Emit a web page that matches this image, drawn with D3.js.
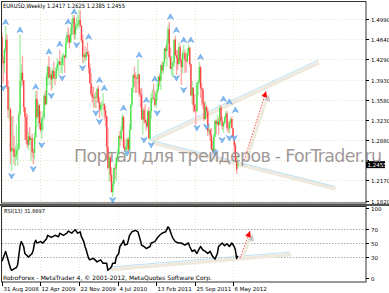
<!DOCTYPE html>
<html>
<head>
<meta charset="utf-8">
<script src="https://cdn.jsdelivr.net/npm/d3@7"></script>
<style>
body { margin: 0; background: #fff; }
svg { display: block; }
text { font-family: "DejaVu Sans", sans-serif; }
</style>
</head>
<body>
<svg width="389" height="293"></svg>
<script>
// weekly EURUSD bars, week 0 = 31 Aug 2008, open = previous close
var firstOpen = 1.4670;
var lastOpen = 1.2417;

var highs = [
  1.4735,1.4350,1.4470,1.4867,1.4720,1.3915,1.3810,1.3440,1.3297,1.3300,1.2955,1.2780,1.3150,1.2815,1.3380,1.4720,1.4190,1.4350,
  1.3925,1.3455,1.3350,1.3330,1.3020,1.3105,1.2905,1.2985,1.2720,1.3010,1.3735,1.3740,1.3540,1.3500,1.3380,1.3270,1.3375,1.3690,1.3740,1.4050,1.4180,1.4340,1.4150,1.4090,1.4140,1.4250,1.4070,1.4170,1.4310,1.4260,1.4445,1.4290,1.4370,1.4400,1.4365,1.4665,1.4770,1.4845,1.4735,1.4845,1.4995,1.5065,1.5060,1.4930,1.5015,1.5060,1.5145,1.5145,1.4885,1.4720,1.4385,1.4515,
  1.4460,1.4580,1.4435,1.4215,1.4040,1.3810,1.3805,1.3690,1.3720,1.3785,1.3825,1.3625,1.3540,1.3550,1.3695,1.3520,1.3475,1.3295,1.3095,1.2675,1.2600,1.2400,1.2155,1.2395,1.2460,1.2575,1.2720,1.2970,1.3030,1.3120,1.3335,1.3300,1.2900,1.2775,1.2925,1.2930,1.3160,1.3495,1.3790,1.4030,1.4160,1.4055,1.4000,1.4280,1.4030,1.3775,1.3785,1.3430,1.3450,1.3500,1.3235,1.3410,
  1.3445,1.3395,1.3695,1.3760,1.3860,1.3740,1.3700,1.3860,1.3990,1.4035,1.4195,1.4250,1.4245,1.4480,1.4520,1.4650,1.4880,1.4940,1.4495,1.4345,1.4250,1.4635,1.4695,1.4450,1.4450,1.4580,1.4540,1.4300,1.4440,1.4535,1.4450,1.4400,1.4480,1.4550,1.4500,1.4210,1.3910,1.3800,1.3680,1.3500,1.3890,1.3915,1.4245,1.4175,1.3870,1.3790,1.3560,1.3550,1.3490,1.3440,1.3120,1.3085,
  1.3080,1.2880,1.2985,1.3235,1.3235,1.3320,1.3265,1.3485,1.3485,1.3290,1.3200,1.3295,1.3385,1.3385,1.3210,1.3215,1.3265,1.3285,1.3090,1.2940,1.2825,1.2590,1.2625
];
var lows = [
  1.4140,1.3882,1.4040,1.4400,1.3770,1.3260,1.3235,1.2455,1.2330,1.2660,1.2445,1.2420,1.2530,1.2425,1.2705,1.3300,1.3820,1.3830,
  1.3360,1.2880,1.2810,1.2740,1.2700,1.2780,1.2510,1.2565,1.2455,1.2545,1.2905,1.3255,1.3110,1.3065,1.3005,1.2890,1.3040,1.3230,1.3475,1.3500,1.3815,1.3950,1.3840,1.3745,1.3775,1.3955,1.3830,1.3940,1.4080,1.4005,1.4185,1.4045,1.4045,1.4175,1.4050,1.4310,1.4560,1.4585,1.4480,1.4595,1.4695,1.4845,1.4630,1.4635,1.4805,1.4830,1.4830,1.4865,1.4580,1.4220,1.4215,1.4255,
  1.4260,1.4340,1.4030,1.3855,1.3640,1.3530,1.3445,1.3440,1.3435,1.3530,1.3530,1.3265,1.3380,1.3290,1.3480,1.3240,1.3115,1.2525,1.2355,1.2145,1.2145,1.1960,1.1875,1.2070,1.2200,1.2155,1.2470,1.2570,1.2760,1.2850,1.3040,1.2730,1.2680,1.2590,1.2660,1.2645,1.2700,1.3045,1.3460,1.3695,1.3805,1.3700,1.3700,1.3855,1.3630,1.3445,1.3225,1.2970,1.3160,1.3170,1.3045,1.3095,
  1.2900,1.2860,1.3250,1.3535,1.3580,1.3455,1.3435,1.3565,1.3730,1.3815,1.3750,1.4040,1.4030,1.4160,1.4295,1.4155,1.4550,1.4320,1.4115,1.4000,1.3970,1.4160,1.4350,1.4010,1.4100,1.4195,1.4220,1.3840,1.4035,1.4280,1.4050,1.4050,1.4240,1.4340,1.4160,1.3650,1.3495,1.3360,1.3360,1.3145,1.3370,1.3655,1.3855,1.3610,1.3485,1.3420,1.3210,1.3235,1.3260,1.2945,1.2985,1.2860,
  1.2710,1.2625,1.2660,1.2925,1.2975,1.3110,1.2975,1.3140,1.3200,1.3055,1.3005,1.3150,1.3215,1.3035,1.3000,1.2995,1.3105,1.3080,1.2910,1.2640,1.2495,1.2285,1.2385
];
var closes = [
  1.4270,1.4218,1.4456,1.4628,1.3805,1.3405,1.3412,1.2680,1.2735,1.2720,1.2585,1.2610,1.2695,1.2720,1.3325,1.3915,1.4050,1.3920,
  1.3450,1.3280,1.2875,1.2795,1.2940,1.2875,1.2910,1.2670,1.2655,1.2925,1.3595,1.3275,1.3485,1.3170,1.3050,1.3255,1.3285,1.3650,1.3500,1.3995,1.4155,1.3965,1.4020,1.3935,1.4085,1.3960,1.3945,1.4135,1.4205,1.4245,1.4190,1.4190,1.4325,1.4350,1.4315,1.4575,1.4710,1.4675,1.4575,1.4720,1.4910,1.5010,1.4720,1.4870,1.4880,1.4905,1.4975,1.4870,1.4620,1.4330,1.4370,1.4320,
  1.4410,1.4375,1.4140,1.3865,1.3680,1.3625,1.3610,1.3630,1.3625,1.3770,1.3530,1.3410,1.3490,1.3490,1.3500,1.3395,1.3295,1.2755,1.2390,1.2570,1.2270,1.1965,1.2110,1.2390,1.2380,1.2570,1.2640,1.2945,1.2900,1.3050,1.3280,1.2745,1.2700,1.2760,1.2890,1.2705,1.3050,1.3490,1.3790,1.4010,1.3965,1.3960,1.3945,1.4025,1.3690,1.3665,1.3240,1.3400,1.3225,1.3185,1.3115,1.3380,
  1.2905,1.3380,1.3610,1.3615,1.3595,1.3490,1.3690,1.3750,1.3985,1.3910,1.4185,1.4090,1.4230,1.4475,1.4430,1.4560,1.4810,1.4325,1.4120,1.4160,1.4225,1.4630,1.4355,1.4310,1.4200,1.4500,1.4260,1.4150,1.4385,1.4395,1.4280,1.4245,1.4395,1.4490,1.4200,1.3655,1.3790,1.3490,1.3390,1.3380,1.3870,1.3900,1.4150,1.3780,1.3755,1.3520,1.3240,1.3450,1.3380,1.3030,1.3050,1.2960,
  1.2720,1.2680,1.2930,1.3210,1.3155,1.3195,1.3140,1.3445,1.3210,1.3115,1.3175,1.3275,1.3340,1.3095,1.3075,1.3180,1.3240,1.3085,1.2915,1.2780,1.2515,1.2360,1.2455
];

// RSI(13): week index -> value
var rsiWeeks  = [0,3,5,7,8,11,12,13,15,16,18,19,22,25,26,27,28,29,32,34,37,38,41,44,47,48,51,54,55,58,59,61,62,63,65,66,68,69,70,72,73,76,79,82,84,87,88,90,91,92,94,95,97,98,100,101,102,104,105,106,108,111,113,115,116,118,120,123,124,127,129,131,133,136,138,139,141,142,144,147,149,152,155,156,158,160,162,164,165,167,169,171,173,175,177,179,180,183,185,187,189,191,193,194,195,196];
var rsiValues = [24,38,26,14,11,14,15,19,46,52,45,35,30,35,40,50,54,50,52,50,56,61,58,61,59,64,61,64,67,64,66,69,66,64,66,59,52,45,40,28,26,28,23,26,21,21,11,14,16,21,21,30,35,45,50,54,47,48,54,61,66,68,66,54,47,45,42,45,50,52,57,61,64,66,73,71,61,57,52,50,50,47,50,45,38,40,35,42,45,40,38,35,38,31,27,35,45,50,46,49,45,50,45,40,28,31.7];

// Bill Williams fractals: [week, price]
var fractalsUp = [[3,1.4937],[15,1.4798],[28,1.3807],[39,1.4419],[48,1.4553],[55,1.4943],[60,1.5117],[72,1.4681],[81,1.3924],[85,1.3785],[101,1.3435],[114,1.4361],[120,1.3575],[127,1.3942],[140,1.5030],[145,1.4798],[151,1.4623],[157,1.4623],[165,1.4326],[184,1.3593],[189,1.3545],[194,1.3400]];
var fractalsDown = [[1,1.3785],[8,1.2248],[26,1.2370],[33,1.2789],[41,1.3650],[50,1.3959],[62,1.4536],[67,1.4134],[78,1.3348],[81,1.3196],[92,1.1829],[104,1.2650],[118,1.2877],[124,1.2789],[129,1.3348],[145,1.3959],[151,1.3750],[162,1.3086],[170,1.3109],[177,1.2655],[183,1.2877],[189,1.2911],[193,1.2911]];

// drawn objects: [week, price] or [week, rsi]
var upperLine = [[123.9,1.2906],[262.7,1.4272]];
var lowerLine = [[123.9,1.2871],[276.8,1.2065]];
var priceArrow = [[201.2,1.2520],[219.5,1.3729]];
var rsiLine = [[89.8,15.7],[239.4,37.1]];
var rsiArrow = [[197.8,28.6],[206.2,67]];

var priceTicks = [1.4990,1.4640,1.4290,1.3930,1.3580,1.3230,1.2880,1.2530,1.2170,1.1820];
var hiddenTick = 1.2530; // covered by the current price box in the reference
var rsiTicks = [100,70,50,30,0];
var rsiLevels = [70,50,30];
var dateTicks = ["2008-08-31","2009-04-12","2009-11-22","2010-07-04","2011-02-13","2011-09-25","2012-05-06"];

var title = "EURUSD,Weekly  1.2417 1.2625 1.2385 1.2455";
var rsiTitle = "RSI(13) 31.6897";
var footer = "RoboForex - MetaTrader 4, \u00a9 2001-2012, MetaQuotes Software Corp.";
var watermark = "\u041f\u043e\u0440\u0442\u0430\u043b \u0434\u043b\u044f \u0442\u0440\u0435\u0439\u0434\u0435\u0440\u043e\u0432 - ForTrader.ru";

var svg = d3.select("svg");

var start = new Date(Date.UTC(2008, 7, 31));
function weekDate(w) { return new Date(start.getTime() + w * 7 * 86400000); }

var x = d3.scaleUtc()
    .domain([start, new Date(Date.UTC(2012, 4, 6))])
    .range([2, 233]);
var y = d3.scaleLinear().domain([1.1820, 1.4990]).range([200.5, 19]);
var yr = d3.scaleLinear().domain([0, 100]).range([278, 208]);

var bars = closes.map(function(c, i) {
    var o = i === 0 ? firstOpen : (i === closes.length - 1 ? lastOpen : closes[i - 1]);
    return { w: i, o: o, h: highs[i], l: lows[i], c: c };
});

var gridColor = "#e6e6c8";

// grids
var grid = svg.append("g");
dateTicks.forEach(function(d) {
    var xx = Math.round(x(new Date(d + "T00:00:00Z"))) + 0.5;
    grid.append("line").attr("x1", xx).attr("x2", xx).attr("y1", 2).attr("y2", 203)
        .attr("stroke", gridColor).attr("stroke-dasharray", "1,2");
    grid.append("line").attr("x1", xx).attr("x2", xx).attr("y1", 207).attr("y2", 282)
        .attr("stroke", gridColor).attr("stroke-dasharray", "1,2");
});
priceTicks.forEach(function(p) {
    var yy = Math.round(y(p)) + 0.5;
    grid.append("line").attr("x1", 2).attr("x2", 366).attr("y1", yy).attr("y2", yy)
        .attr("stroke", gridColor).attr("stroke-dasharray", "1,2");
});
rsiLevels.forEach(function(v) {
    var yy = Math.round(yr(v)) + 0.5;
    grid.append("line").attr("x1", 2).attr("x2", 366).attr("y1", yy).attr("y2", yy)
        .attr("stroke", "#a8a8a8").attr("stroke-dasharray", "1.5,1.5");
});

// trend lines with their beige shadow
function drawLine(g, pts, sx, sy) {
    var p = pts.map(function(d) { return [sx(weekDate(d[0])), sy(d[1])]; });
    g.append("line").attr("x1", p[0][0] + 1).attr("y1", p[0][1] + 2.5)
        .attr("x2", p[1][0] + 1).attr("y2", p[1][1] + 2.5)
        .attr("stroke", "#eee9dc").attr("stroke-width", 3.5);
    g.append("line").attr("x1", p[0][0]).attr("y1", p[0][1])
        .attr("x2", p[1][0]).attr("y2", p[1][1])
        .attr("stroke", "#b4dcf3").attr("stroke-width", 0.9);
}
var lines = svg.append("g");
drawLine(lines, upperLine, x, y);
drawLine(lines, lowerLine, x, y);
drawLine(lines, rsiLine, x, yr);

// candles
var cg = svg.append("g");
cg.selectAll("rect.wick").data(bars).enter().append("rect")
    .attr("x", function(d) { return x(weekDate(d.w)) - 0.6; })
    .attr("width", 1.3)
    .attr("y", function(d) { return y(d.h); })
    .attr("height", function(d) { return Math.max(0.5, y(d.l) - y(d.h)); })
    .attr("fill", function(d) { return d.c >= d.o ? "#a2f0a2" : "#ffa3a3"; });
cg.selectAll("rect.body").data(bars).enter().append("rect")
    .attr("x", function(d) { return x(weekDate(d.w)) - 0.6; })
    .attr("width", 1.3)
    .attr("y", function(d) { return y(Math.max(d.o, d.c)); })
    .attr("height", function(d) { return Math.max(0.6, Math.abs(y(d.o) - y(d.c))); })
    .attr("fill", function(d) { return d.c >= d.o ? "#45e045" : "#ff4040"; });

// fractal arrows
var upPath = "M0,-3L3,2.5L0,1L-3,2.5Z";
var downPath = "M0,3L3,-2.5L0,-1L-3,-2.5Z";
var fg = svg.append("g");
fg.selectAll("path.up").data(fractalsUp).enter().append("path")
    .attr("d", upPath)
    .attr("transform", function(d) { return "translate(" + x(weekDate(d[0])) + "," + y(d[1]) + ")"; })
    .attr("fill", "#84bff3").attr("stroke", "#4a8fdc").attr("stroke-width", 0.5);
fg.selectAll("path.down").data(fractalsDown).enter().append("path")
    .attr("d", downPath)
    .attr("transform", function(d) { return "translate(" + x(weekDate(d[0])) + "," + y(d[1]) + ")"; })
    .attr("fill", "#84bff3").attr("stroke", "#4a8fdc").attr("stroke-width", 0.5);

// RSI line
svg.append("path")
    .datum(rsiWeeks.map(function(w, i) { return [w, rsiValues[i]]; }))
    .attr("fill", "none").attr("stroke", "#000").attr("stroke-width", 1.5)
    .attr("stroke-linejoin", "round")
    .attr("d", d3.line().x(function(d) { return x(weekDate(d[0])); }).y(function(d) { return yr(d[1]); }));

// dashed forecast arrows
function drawArrow(pts, sx, sy) {
    var p = pts.map(function(d) { return [sx(weekDate(d[0])), sy(d[1])]; });
    var ang = Math.atan2(p[1][1] - p[0][1], p[1][0] - p[0][0]) * 180 / Math.PI;
    svg.append("line").attr("x1", p[0][0] + 2).attr("y1", p[0][1] + 1)
        .attr("x2", p[1][0] + 2).attr("y2", p[1][1] + 3)
        .attr("stroke", "#eee9dc").attr("stroke-width", 3);
    svg.append("path").attr("d", "M0,0L-6,-3L-6,3Z")
        .attr("transform", "translate(" + (p[1][0] + 3) + "," + (p[1][1] + 4) + ") rotate(" + ang + ")")
        .attr("fill", "#c4c4c4");
    svg.append("line").attr("x1", p[0][0]).attr("y1", p[0][1])
        .attr("x2", p[1][0]).attr("y2", p[1][1])
        .attr("stroke", "#ff2020").attr("stroke-width", 0.8).attr("stroke-dasharray", "1.5,1.5");
    svg.append("path").attr("d", "M0,0L-6,-3L-6,3Z")
        .attr("transform", "translate(" + p[1][0] + "," + p[1][1] + ") rotate(" + ang + ")")
        .attr("fill", "#ff0000");
}
drawArrow(priceArrow, x, y);
drawArrow(rsiArrow, x, yr);

// frames
svg.append("rect").attr("x", 1.5).attr("y", 1.5).attr("width", 364.5).attr("height", 201.5)
    .attr("fill", "none").attr("stroke", "#333");
svg.append("rect").attr("x", 0).attr("y", 204).attr("width", 389).attr("height", 2).attr("fill", "#555");
svg.append("rect").attr("x", 1.5).attr("y", 206.5).attr("width", 364.5).attr("height", 75.5)
    .attr("fill", "none").attr("stroke", "#333");

// price axis
var ax = svg.append("g").attr("font-size", 5.5).attr("fill", "#000");
priceTicks.forEach(function(p) {
    var yy = Math.round(y(p)) + 0.5;
    ax.append("line").attr("x1", 366).attr("x2", 369).attr("y1", yy).attr("y2", yy).attr("stroke", "#000");
    if (p !== hiddenTick) ax.append("text").attr("x", 371).attr("y", yy + 2).text(d3.format(".4f")(p));
});
rsiTicks.forEach(function(v) {
    var yy = Math.round(yr(v)) + 0.5;
    ax.append("line").attr("x1", 366).attr("x2", 369).attr("y1", yy).attr("y2", yy).attr("stroke", "#000");
    ax.append("text").attr("x", 371).attr("y", yy + 2).text(v);
});

// current price marker
var cy = y(closes[closes.length - 1]);
svg.append("rect").attr("x", 366).attr("y", cy - 3).attr("width", 19).attr("height", 7).attr("fill", "#000");
svg.append("text").attr("x", 367.5).attr("y", cy + 2.5).attr("font-size", 5.5).attr("fill", "#fff")
    .text(d3.format(".4f")(closes[closes.length - 1]));

// watermark, drawn over the chart like the terminal's text object
svg.append("text")
    .attr("x", 74).attr("y", 162)
    .attr("font-family", "Liberation Sans, Arial, sans-serif")
    .attr("font-size", 17.5)
    .attr("textLength", 308).attr("lengthAdjust", "spacing")
    .attr("fill", "#8f8585").attr("fill-opacity", 0.85)
    .text(watermark);

// time axis
var fmt = d3.utcFormat("%-d %b %Y");
dateTicks.forEach(function(d) {
    var dt = new Date(d + "T00:00:00Z");
    var xx = Math.round(x(dt)) + 0.5;
    svg.append("line").attr("x1", xx).attr("x2", xx).attr("y1", 282).attr("y2", 286).attr("stroke", "#000");
    svg.append("text").attr("x", xx + 1).attr("y", 291).attr("font-size", 5.5).text(fmt(dt));
});

// titles
svg.append("text").attr("x", 3).attr("y", 8).attr("font-size", 6)
    .attr("textLength", 122).attr("lengthAdjust", "spacingAndGlyphs").text(title);
svg.append("text").attr("x", 4).attr("y", 212.5).attr("font-size", 5.5)
    .attr("textLength", 41).attr("lengthAdjust", "spacingAndGlyphs").text(rsiTitle);
svg.append("text").attr("x", 3).attr("y", 280).attr("font-size", 6)
    .attr("textLength", 209).attr("lengthAdjust", "spacingAndGlyphs").text(footer);
</script>
</body>
</html>
